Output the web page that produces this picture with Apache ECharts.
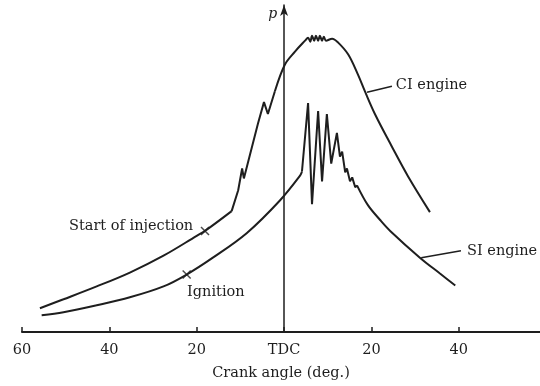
<!DOCTYPE html>
<html lang="en">
<head>
    <meta charset="UTF-8">
    <title>Cylinder pressure vs crank angle</title>
    <script src="https://cdn.jsdelivr.net/npm/echarts@6/dist/echarts.min.js"></script>
    <style>
        html, body { margin: 0; padding: 0; background: #fff; }
        #main { width: 540px; height: 386px; }
    </style>
</head>
<body>
<div id="main"></div>
<script type="text/javascript">
    // crank angle in degrees (negative = before TDC), pressure in arbitrary units
    var ciAngle = [-55.9, -50.5, -42.9, -35.3, -27.6, -20.0, -18.1, -12.0, -10.5, -9.6, -9.2, -6.0, -4.6, -3.7, -2.1, 0.2, 2.5, 4.8,
        5.5, 6.0, 6.4, 6.9, 7.3, 7.8, 8.2, 8.7, 9.1, 9.6, 11.0, 12.4, 14.7, 16.9, 18.5, 20.8, 24.7, 28.4, 33.4];
    var ciPressure = [24, 33, 46, 60, 77, 97, 102, 122, 143, 165, 155, 210, 232, 220, 243, 270, 283, 294,
        297, 293, 299, 294, 299, 294, 299, 294, 298, 294, 296, 292, 280, 260, 243, 220, 187, 157, 121];

    var siAngle = [-55.5, -50.5, -42.9, -35.3, -27.6, -22.3, -16.3, -8.5, -0.9, 3.7, 4.1, 5.5, 6.4, 7.8, 8.7, 9.8, 10.8, 12.1,
        12.8, 13.3, 14.0, 14.4, 15.1, 15.6, 16.3, 16.7, 19.2, 22.0, 24.3, 31.1, 35.7, 39.2];
    var siPressure = [17, 20, 27, 35, 46, 58, 75, 100, 133, 158, 162, 231, 129, 223, 152, 220, 170, 201,
        177, 182, 161, 165, 152, 156, 146, 148, 128, 113, 102, 75, 59, 47];

    // marked events
    var injectionPoint = [-18.1, 102];
    var ignitionPoint = [-22.3, 58];

    // axis ticks
    var tickValues = [-60, -40, -20, 0, 20, 40];
    var tickLabels = ['60', '40', '20', 'TDC', '20', '40'];

    function zip(a, b, from, to) {
        var out = [];
        for (var i = from; i <= to; i++) out.push([a[i], b[i]]);
        return out;
    }

    var ink = '#1e1e1e';
    var lineStyle = {color: ink, width: 2};

    // smooth parts and the jagged (knocking) parts are drawn as separate pieces
    function piece(name, a, b, from, to, smooth) {
        return {
            name: name,
            type: 'line',
            data: zip(a, b, from, to),
            showSymbol: false,
            smooth: smooth ? 0.35 : false,
            lineStyle: lineStyle
        };
    }

    var myChart = echarts.init(document.getElementById('main'), null, {renderer: 'canvas'});

    var ciLast = ciAngle.length - 1;
    var siLast = siAngle.length - 1;

    var labelSeries = piece('CI engine', ciAngle, ciPressure, 14, ciLast, true);
    labelSeries.markLine = {
        silent: true, symbol: 'none', label: {show: false},
        lineStyle: {color: ink, width: 1.5, type: 'solid'},
        data: [
            [{coord: [19.0, 242]}, {coord: [24.7, 248]}],
            [{coord: [31.4, 75]}, {coord: [40.5, 82]}]
        ]
    };
    labelSeries.markPoint = {
        symbol: 'circle', symbolSize: 0, silent: true,
        label: {color: ink, fontSize: 14.5, fontFamily: 'DejaVu Serif'},
        data: [
            {coord: [25.6, 249], label: {formatter: 'CI engine', position: 'right', distance: 0}},
            {coord: [41.9, 82], label: {formatter: 'SI engine', position: 'right', distance: 0}},
            {coord: [-20.8, 107], label: {formatter: 'Start of injection', position: 'left', distance: 0}},
            {coord: [-22.2, 40], label: {formatter: 'Ignition', position: 'right', distance: 0}},
            {coord: [-2.6, 321], label: {formatter: 'p', position: 'inside', fontStyle: 'italic', fontSize: 14}}
        ]
    };

    var option = {
        animation: false,
        backgroundColor: '#fff',
        textStyle: {fontFamily: 'DejaVu Serif', color: ink},
        grid: {left: 22, right: 0, top: 5, bottom: 51},
        xAxis: {
            type: 'value',
            min: -60,
            max: 58.6,
            name: 'Crank angle (deg.)',
            nameLocation: 'middle',
            nameGap: 34,
            nameTextStyle: {fontSize: 14.5, color: ink, fontFamily: 'DejaVu Serif'},
            axisLine: {lineStyle: {color: ink, width: 2}},
            axisTick: {show: true, inside: true, length: 5, lineStyle: {color: ink, width: 1.5}, customValues: tickValues},
            axisLabel: {
                fontSize: 14.5, color: ink, margin: 11,
                customValues: tickValues,
                formatter: function (v) {
                    var i = tickValues.indexOf(v);
                    return i >= 0 ? tickLabels[i] : '';
                }
            },
            splitLine: {show: false}
        },
        yAxis: {
            type: 'value',
            min: 0,
            max: 330,
            axisLine: {
                show: true, onZero: true,
                symbol: ['none', 'arrow'], symbolSize: [6, 11],
                lineStyle: {color: ink, width: 1.5}
            },
            axisTick: {show: false},
            axisLabel: {show: false},
            splitLine: {show: false}
        },
        series: [
            piece('CI engine', ciAngle, ciPressure, 0, 7, true),
            piece('CI engine', ciAngle, ciPressure, 7, 14, false),
            labelSeries,
            piece('SI engine', siAngle, siPressure, 0, 10, true),
            piece('SI engine', siAngle, siPressure, 10, 25, false),
            piece('SI engine', siAngle, siPressure, 25, siLast, true),
            {
                name: 'events',
                type: 'scatter',
                data: [injectionPoint, ignitionPoint],
                symbol: 'path://M0,0L10,10M10,0L0,10',
                symbolSize: 8,
                itemStyle: {color: 'transparent', borderColor: ink, borderWidth: 1.5}
            }
        ]
    };
    myChart.setOption(option);
</script>
</body>
</html>
